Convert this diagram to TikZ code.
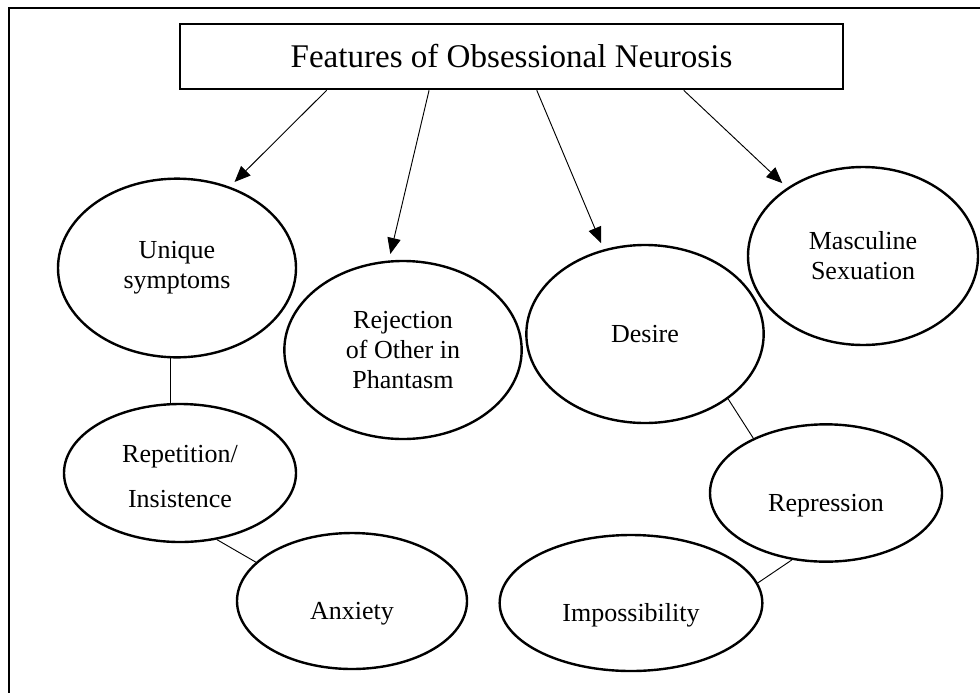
\documentclass[tikz,border=0pt]{standalone}
\usepackage{fontspec}
\setmainfont{Liberation Serif}
\usepackage{tikz}
\usetikzlibrary{
    shapes.geometric,
    arrows.meta,
    calc
}

\begin{document}
\begin{tikzpicture}[x=0.75pt, y=-0.75pt,
  topbox/.style={draw, line width=1.7pt, minimum width=497pt, minimum height=49pt,
                 inner sep=0pt, font=\fontsize{24.8}{30}\selectfont},
  bubble/.style={draw, ellipse, line width=1.8pt, inner sep=0pt, align=center,
                 font=\fontsize{19.5}{22.5}\selectfont},
  lowtext/.style={text height=28pt, text depth=0pt},
  farr/.style={-{Triangle[length=12pt,width=10pt]}, line width=0.7pt, shorten >=5pt},
  link/.style={line width=0.7pt}]

  \useasboundingbox (0,0) rectangle (980,693);

  % Outer frame (right and bottom sides run off the page)
  \draw[line width=1.7pt] (980,8) -- (9,8) -- (9,693);

  % Title box
  \node[topbox] (F) at (511.5,56.5) {Features of Obsessional Neurosis};

  % Feature ellipses, upper row
  \node[bubble, minimum width=178.5pt, minimum height=134pt] (US) at (177,268)
    {Unique\\symptoms};
  \node[bubble, minimum width=178pt, minimum height=133.5pt] (RO) at (403,350)
    {Rejection\\of Other in\\Phantasm};
  \node[bubble, minimum width=178pt, minimum height=133.5pt] (DE) at (645,334)
    {Desire};
  \node[bubble, minimum width=172.5pt, minimum height=133.5pt] (MS) at (863,256)
    {Masculine\\Sexuation};

  % Linked ellipses, lower rows
  \node[bubble, minimum width=174pt, minimum height=103.5pt, text height=51pt, text depth=0pt]
    (RI) at (180,473) {Repetition/\\[11pt]Insistence};
  \node[bubble, lowtext, minimum width=172.5pt, minimum height=102pt] (AX) at (352,601)
    {Anxiety};
  \node[bubble, lowtext, minimum width=174pt, minimum height=103pt] (RP) at (826,493)
    {Repression};
  \node[bubble, lowtext, minimum width=197pt, minimum height=102pt] (IM) at (631,603)
    {Impossibility};

  % Arrows from the title box
  \draw[farr] ($(F.south west)!0.222!(F.south east)$) -- (US.57);
  \draw[farr] ($(F.south west)!0.376!(F.south east)$) -- (RO.99);
  \draw[farr] ($(F.south west)!0.538!(F.south east)$) -- (DE.116);
  \draw[farr] ($(F.south west)!0.759!(F.south east)$) -- (MS.138);

  % Plain links
  \draw[link] (US.266) -- (US.266 |- RI.north);
  \draw[link] (RI.-61) -- (AX.158);
  \draw[link] (DE.-38) -- (RP.143);
  \draw[link] (RP.-117) -- (IM.9);
\end{tikzpicture}
\end{document}
